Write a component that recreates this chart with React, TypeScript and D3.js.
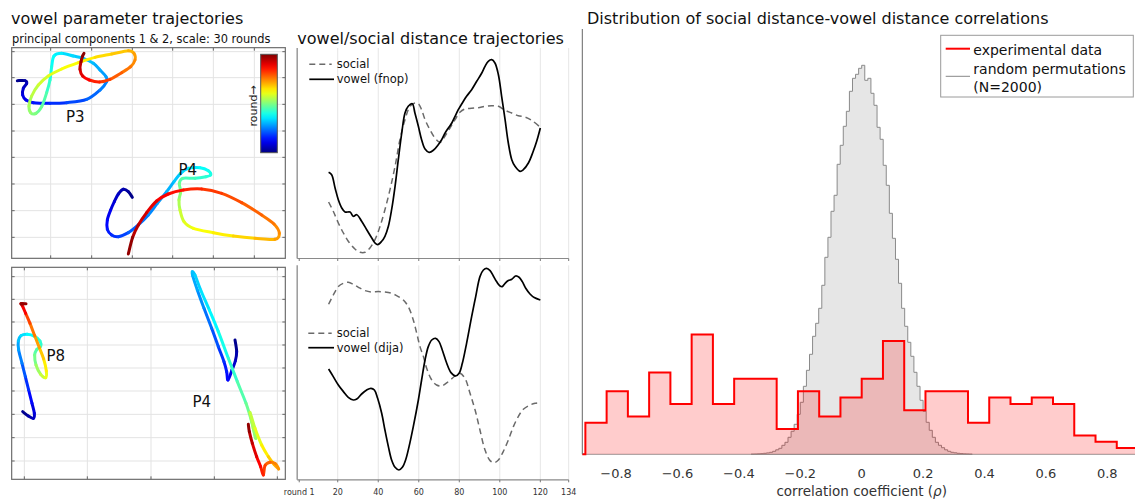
import React from 'react';
import * as d3 from 'd3';

const FONT = "'DejaVu Sans', Verdana, sans-serif";

// ---------------- Right panel data ----------------
const corrBinStart = -0.9;
const corrBinWidth = 1.8 / 26;
const experimentalCounts = [5, 10, 6, 13, 8, 19, 8, 12, 12, 4, 10, 6, 9, 12, 18, 7, 10, 10, 5, 9, 8, 9, 8, 3, 2, 1];
const permBinStart = -0.36;
const permBinWidth = 0.01;
const permDensity = [
  0.1, 0.2, 0.4, 0.6, 1, 1.4, 2, 3, 4.5, 6, 9, 12, 17, 23, 30, 40, 52, 68, 84, 100, 118, 131, 146, 169, 197, 217,
  243, 259, 290, 309, 328, 343, 363, 376, 380, 386,
  389, 374, 376, 361, 349, 327, 315, 289, 269, 241, 216, 195, 171, 146, 128, 112, 98, 82, 68, 54, 43, 32, 24, 17,
  12, 9, 6.6, 4.5, 3, 2, 1.5, 1, 0.7, 0.4, 0.25, 0.1,
];
const corrTicks = [-0.8, -0.6, -0.4, -0.2, 0, 0.2, 0.4, 0.6, 0.8];

// ---------------- Middle panels data: [round, distance] ----------------
const roundTicks = [1, 20, 40, 60, 80, 100, 120, 134];
const roundGrid = [20, 40, 60, 80, 100, 120, 134];
const vowelFnop: [number, number][] = [
  [15.5, 85.7], [17.0, 83.3], [18.7, 70], [20.3, 58.3], [22.0, 50], [23.6, 46], [26.1, 46], [27.7, 41.7], [29.4, 43.3],
  [31.8, 36.7], [34.3, 28.3], [36.8, 20], [38.4, 15], [39.7, 13.3], [41.7, 16.7], [43.3, 21.7], [45.0, 31.7],
  [46.6, 48.3], [48.3, 71.7], [49.9, 98.3], [51.6, 125], [53.2, 145], [54.8, 151.7], [56.8, 154.3], [58.1, 145],
  [59.8, 131.7], [61.4, 118.3], [63.1, 109], [65.1, 105.7], [67.2, 107.7], [69.6, 113.3], [71.3, 118.3], [73.0, 125],
  [74.6, 130], [76.3, 135], [77.9, 141.7], [79.5, 148.3], [82.0, 156.7], [83.6, 161.7], [86.1, 168.3], [88.6, 176.7],
  [91.1, 185], [92.7, 191.7], [94.3, 196.7], [96.0, 198.3], [97.6, 195], [99.3, 183.3], [100.9, 161.7], [102.6, 138.3],
  [104.2, 115], [105.9, 98.3], [107.5, 91.7], [110.0, 86.7], [111.6, 88.3], [114.1, 95], [116.5, 106.7], [118.2, 116.7],
  [120.0, 130],
];
const socialFnop: [number, number][] = [
  [15.5, 56], [17.8, 46.7], [20.3, 35], [22.8, 25], [25.2, 16.7], [28.5, 9], [31.0, 5.7], [33.5, 5.7], [35.9, 10],
  [38.4, 18.3], [40.9, 31.7], [43.3, 48.3], [45.8, 68.3], [48.3, 91.7], [50.7, 118.3], [53.2, 138.3], [55.7, 151.7],
  [58.1, 155], [59.8, 154.3], [61.4, 148.3], [63.1, 138.3], [65.5, 128.3], [68.0, 120], [70.5, 115.7], [72.9, 121.7],
  [75.4, 130], [77.9, 138.3], [80.3, 145.7], [82.8, 149], [86.1, 149.7], [89.4, 150.3], [92.7, 151.7], [96.0, 152.3],
  [99.3, 151.7], [102.6, 147.7], [105.9, 145], [109.1, 142.3], [112.4, 141], [115.7, 137.7], [120.0, 130.7],
];
const vowelDija: [number, number][] = [
  [15.5, 110.3], [17.8, 102.7], [20.3, 94.3], [22.8, 87.7], [25.2, 82], [27.7, 79.3], [29.4, 80.3], [31.8, 85.3],
  [34.3, 89.3], [36.4, 91], [38.1, 89.3], [39.7, 81], [41.7, 66], [43.3, 49.3], [45.0, 32.7], [46.6, 19.3], [48.3, 12],
  [50.2, 9.3], [51.9, 12], [53.5, 19.3], [55.2, 32.7], [57.3, 52.7], [59.8, 79.3], [61.4, 99.3], [63.1, 119.3],
  [64.7, 132.7], [66.4, 139.3], [68.3, 141], [70.0, 137.7], [71.6, 129.3], [73.8, 116], [75.9, 106.7], [78.2, 103.3],
  [79.9, 106], [81.5, 116], [83.6, 136], [86.1, 162.7], [88.1, 182.7], [90.2, 202.7], [91.9, 209.3], [93.5, 211],
  [95.2, 208.7], [96.8, 203.3], [98.4, 197.7], [100.1, 193.3], [101.2, 192.7], [102.6, 196], [104.2, 198.7],
  [105.9, 200], [107.8, 203.3], [109.5, 202], [111.1, 197.7], [112.8, 191], [114.9, 185.3], [117.0, 181.7],
  [120.0, 179.3],
];
const socialDija: [number, number][] = [
  [15.5, 175], [17.8, 184.3], [20.3, 192.7], [22.8, 196], [25.2, 197], [27.7, 195], [30.2, 192], [33.5, 188.7],
  [36.8, 187.3], [40.0, 187.7], [43.3, 187.3], [46.6, 186], [49.9, 182.7], [52.4, 179.3], [54.8, 172.7], [57.3, 159.3],
  [59.0, 146], [60.6, 132.7], [62.3, 122.7], [63.9, 111], [66.4, 99.3], [68.8, 94.3], [71.3, 93.3], [74.6, 97.7],
  [77.9, 103.3], [80.3, 106], [82.8, 101], [85.3, 86], [87.8, 69.3], [90.2, 49.3], [92.7, 29.3], [95.2, 18.7],
  [97.3, 16.7], [99.3, 19.3], [101.7, 27.7], [104.2, 39.3], [106.7, 52.7], [109.1, 62.7], [111.6, 70], [114.9, 74.3],
  [117.4, 76], [120.0, 76.7],
];

// ---------------- Left panels data: [PC1, PC2, round fraction] ----------------
const topGridX = [152, 275, 397, 518, 640, 763];
const topGridY = [155, 233, 313, 393, 472, 552, 632, 712];
const bottomGridX = [73, 262, 453, 643, 832];
const bottomGridY = [65, 133, 201, 270, 339, 408, 478, 548, 618];

const trajP3: [number, number, number][] = [
  [52, 242, 0.0], [75, 242, 0.03], [80, 250, 0.05], [70, 265, 0.07], [68, 285, 0.09], [78, 300, 0.11], [100, 308, 0.13],
  [150, 310, 0.16], [200, 308, 0.18], [260, 298, 0.21], [300, 270, 0.24], [320, 245, 0.26], [318, 230, 0.27],
  [300, 210, 0.29], [280, 190, 0.3], [250, 175, 0.32], [220, 168, 0.33], [185, 160, 0.35], [162, 168, 0.37],
  [155, 200, 0.39], [150, 240, 0.41], [140, 278, 0.44], [125, 320, 0.47], [108, 340, 0.49], [92, 338, 0.51],
  [87, 318, 0.53], [95, 288, 0.55], [115, 255, 0.57], [145, 228, 0.59], [185, 207, 0.61], [235, 188, 0.63],
  [285, 172, 0.65], [335, 162, 0.67], [385, 152, 0.69], [402, 160, 0.71], [405, 180, 0.73], [392, 200, 0.75],
  [365, 218, 0.77], [330, 238, 0.8], [298, 246, 0.83], [268, 240, 0.86], [248, 228, 0.89], [240, 208, 0.92],
  [243, 185, 0.95], [248, 168, 0.98], [252, 160, 1.0],
];
const trajP4top: [number, number, number][] = [
  [397, 592, 0.0], [385, 575, 0.02], [370, 568, 0.04], [355, 582, 0.06], [343, 605, 0.08], [332, 630, 0.1],
  [322, 660, 0.12], [322, 688, 0.14], [335, 705, 0.16], [355, 710, 0.18], [385, 698, 0.2], [415, 675, 0.23],
  [445, 645, 0.25], [472, 610, 0.27], [500, 575, 0.29], [522, 545, 0.31], [542, 520, 0.33], [565, 505, 0.35],
  [600, 503, 0.37], [625, 512, 0.39], [632, 525, 0.4], [618, 530, 0.41], [585, 535, 0.43], [548, 535, 0.45],
  [538, 550, 0.47], [542, 575, 0.5], [537, 600, 0.53], [540, 630, 0.56], [552, 665, 0.59], [580, 685, 0.61],
  [640, 698, 0.63], [700, 708, 0.65], [765, 715, 0.68], [825, 718, 0.71], [838, 700, 0.73], [822, 672, 0.75],
  [785, 645, 0.77], [725, 608, 0.79], [665, 580, 0.81], [605, 567, 0.83], [550, 570, 0.85], [505, 582, 0.87],
  [470, 603, 0.89], [440, 638, 0.91], [415, 675, 0.93], [398, 712, 0.96], [385, 762, 1.0],
];
const trajP8: [number, number, number][] = [
  [68, 470, 0.0], [85, 483, 0.03], [100, 490, 0.06], [103, 475, 0.08], [96, 445, 0.11], [86, 405, 0.15],
  [76, 365, 0.19], [66, 325, 0.23], [56, 285, 0.27], [55, 258, 0.3], [63, 242, 0.33], [82, 238, 0.36],
  [104, 244, 0.39], [120, 258, 0.41], [122, 274, 0.43], [110, 284, 0.45], [104, 300, 0.47], [108, 330, 0.51],
  [122, 358, 0.55], [137, 368, 0.59], [139, 348, 0.62], [131, 312, 0.66], [118, 278, 0.7], [104, 242, 0.74],
  [90, 205, 0.78], [77, 175, 0.84], [66, 150, 0.92], [63, 146, 0.96], [78, 146, 1.0],
];
const trajP4bottom: [number, number, number][] = [
  [705, 255, 0.0], [710, 290, 0.03], [706, 318, 0.06], [696, 345, 0.09], [684, 375, 0.12], [680, 350, 0.14],
  [672, 320, 0.16], [655, 275, 0.19], [635, 220, 0.22], [612, 160, 0.25], [592, 105, 0.28], [578, 62, 0.3],
  [577, 50, 0.31], [585, 60, 0.32], [602, 105, 0.34], [628, 165, 0.36], [655, 230, 0.38], [685, 310, 0.41],
  [712, 380, 0.44], [738, 445, 0.47], [755, 500, 0.49], [767, 550, 0.51], [760, 520, 0.53], [750, 472, 0.55],
  [765, 520, 0.58], [785, 570, 0.62], [805, 605, 0.66], [822, 628, 0.69], [836, 642, 0.72], [826, 626, 0.74],
  [810, 622, 0.76], [795, 632, 0.8], [790, 660, 0.83], [782, 635, 0.86], [770, 605, 0.89], [757, 565, 0.92],
  [748, 530, 0.96], [745, 508, 1.0],
];

// ---------------- helpers ----------------
const clamp01 = (v: number) => Math.max(0, Math.min(1, v));
const jet = (t: number) =>
  d3.rgb(
    255 * clamp01(1.5 - Math.abs(4 * t - 3)),
    255 * clamp01(1.5 - Math.abs(4 * t - 2)),
    255 * clamp01(1.5 - Math.abs(4 * t - 1))
  ).formatHex();

function Trajectory({ pts, sx, sy }: { pts: [number, number, number][]; sx: any; sy: any }) {
  const P = pts.map((p) => [sx(p[0]), sy(p[1]), p[2]]);
  const n = P.length;
  const segs = [];
  for (let i = 0; i < n - 1; i++) {
    const p0 = P[Math.max(i - 1, 0)], p1 = P[i], p2 = P[i + 1], p3 = P[Math.min(i + 2, n - 1)];
    const c1x = p1[0] + (p2[0] - p0[0]) / 6, c1y = p1[1] + (p2[1] - p0[1]) / 6;
    const c2x = p2[0] - (p3[0] - p1[0]) / 6, c2y = p2[1] - (p3[1] - p1[1]) / 6;
    segs.push(
      <path key={i} d={`M${p1[0]},${p1[1]}C${c1x},${c1y} ${c2x},${c2y} ${p2[0]},${p2[1]}`}
        stroke={jet((p1[2] + p2[2]) / 2)} strokeWidth={3} fill="none" strokeLinecap="round" />
    );
  }
  return <g>{segs}</g>;
}

function GridBox({ sx, sy, gx, gy, x0, x1, y0, y1 }: any) {
  const tk = 3;
  return (
    <g>
      {gx.map((g: number) => (
        <line key={'gx' + g} x1={sx(g)} x2={sx(g)} y1={y0} y2={y1} stroke="#e3e3e3" strokeWidth={1} />
      ))}
      {gy.map((g: number) => (
        <line key={'gy' + g} x1={x0} x2={x1} y1={sy(g)} y2={sy(g)} stroke="#e3e3e3" strokeWidth={1} />
      ))}
      {gx.map((g: number) => (
        <g key={'tx' + g}>
          <line x1={sx(g)} x2={sx(g)} y1={y1} y2={y1 - tk} stroke="#666" />
          <line x1={sx(g)} x2={sx(g)} y1={y0} y2={y0 + tk} stroke="#666" />
        </g>
      ))}
      {gy.map((g: number) => (
        <g key={'ty' + g}>
          <line x1={x0} x2={x0 + tk} y1={sy(g)} y2={sy(g)} stroke="#666" />
          <line x1={x1} x2={x1 - tk} y1={sy(g)} y2={sy(g)} stroke="#666" />
        </g>
      ))}
      <rect x={x0} y={y0} width={x1 - x0} height={y1 - y0} fill="none" stroke="#6e6e6e" strokeWidth={1.2} />
    </g>
  );
}

function stairs(start: number, width: number, vals: number[], sx: any, sy: any) {
  let d = `M${sx(start)},${sy(0)}`;
  vals.forEach((v, i) => {
    d += `V${sy(v)}H${sx(start + (i + 1) * width)}`;
  });
  d += `V${sy(0)}`;
  return d;
}

export default function App() {
  // Left panels scales
  const lx0 = 11.67, lx1 = 285.33;
  const sxTop = d3.scaleLinear().domain([35, 856]).range([lx0, lx1]);
  const syTop = d3.scaleLinear().domain([143, 775]).range([47.67, 258.33]);
  const sxBot = d3.scaleLinear().domain([35, 856]).range([lx0, lx1]);
  const syBot = d3.scaleLinear().domain([37, 673]).range([267.33, 479.33]);

  // Middle panels
  const xM = d3.scaleLinear().domain([0, 134]).range([297.2, 568.7]);
  const yMT = d3.scaleLinear().domain([0, 210]).range([258, 48]);
  const yMB = d3.scaleLinear().domain([0, 214]).range([479.3, 265.3]);
  const lineT = d3.line<[number, number]>().x((d) => xM(d[0])).y((d) => yMT(d[1])).curve(d3.curveCatmullRom);
  const lineB = d3.line<[number, number]>().x((d) => xM(d[0])).y((d) => yMB(d[1])).curve(d3.curveCatmullRom);

  // Right panel
  const xR = d3.scaleLinear().domain([-0.91, 0.91]).range([582.3, 1141.1]);
  const yR = d3.scaleLinear().domain([0, 67.5]).range([454.3, 29]);
  const yG = d3.scaleLinear().domain([0, 425.3]).range([454.3, 29]);

  const grayPath = stairs(permBinStart, permBinWidth, permDensity, xR, yG);
  const redFill = stairs(corrBinStart, corrBinWidth, experimentalCounts, xR, yR);
  const redLine = `M${xR(-0.91)},${yR(0)}H${xR(corrBinStart)}` + redFill.slice(redFill.indexOf('V'));

  const jetStops = d3.range(0, 1.0001, 0.05);

  return (
    <svg width={1135} height={500} style={{ position: 'absolute', left: 0, top: 0, background: '#fff' }}
      fontFamily={FONT}>
      <defs>
        <linearGradient id="jetGrad" x1="0" y1="1" x2="0" y2="0">
          {jetStops.map((t) => (
            <stop key={t} offset={t} stopColor={jet(t)} />
          ))}
        </linearGradient>
        <clipPath id="rightClip">
          <rect x={575} y={0} width={560} height={500} />
        </clipPath>
      </defs>
      <rect x={0} y={0} width={1135} height={500} fill="#fff" />

      {/* ---------- Left panels ---------- */}
      <text x={11} y={24} fontSize={16} fill="#111">vowel parameter trajectories</text>
      <text x={12} y={42.5} fontSize={11.4} fill="#111">principal components 1 &amp; 2, scale: 30 rounds</text>

      <GridBox sx={sxTop} sy={syTop} gx={topGridX} gy={topGridY} x0={lx0} x1={lx1} y0={47.67} y1={258.33} />
      <Trajectory pts={trajP3} sx={sxTop} sy={syTop} />
      <Trajectory pts={trajP4top} sx={sxTop} sy={syTop} />
      <text x={66} y={121.5} fontSize={15} fill="#111">P3</text>
      <text x={178.5} y={175} fontSize={15} fill="#111">P4</text>

      <rect x={260.7} y={54.3} width={16.6} height={98.4} fill="url(#jetGrad)" stroke="#555" strokeWidth={1} />
      <text transform="translate(256.5,106) rotate(-90)" textAnchor="middle" fontSize={11} fill="#222">round→</text>

      <GridBox sx={sxBot} sy={syBot} gx={bottomGridX} gy={bottomGridY} x0={lx0} x1={lx1} y0={267.33} y1={479.33} />
      <Trajectory pts={trajP8} sx={sxBot} sy={syBot} />
      <Trajectory pts={trajP4bottom} sx={sxBot} sy={syBot} />
      <text x={46.5} y={360.5} fontSize={15} fill="#111">P8</text>
      <text x={192.5} y={407} fontSize={15} fill="#111">P4</text>

      {/* ---------- Middle panels ---------- */}
      <text x={297.3} y={44} fontSize={16} fill="#111">vowel/social distance trajectories</text>
      {roundGrid.map((r) => (
        <g key={'mg' + r}>
          <line x1={xM(r)} x2={xM(r)} y1={48} y2={258} stroke="#e6e6e6" />
          <line x1={xM(r)} x2={xM(r)} y1={265.3} y2={479.3} stroke="#e6e6e6" />
        </g>
      ))}
      <line x1={xM(0)} x2={xM(0)} y1={48} y2={258.5} stroke="#9a9a9a" strokeWidth={1.5} />
      <line x1={xM(0)} x2={xM(134)} y1={258.5} y2={258.5} stroke="#8a8a8a" strokeWidth={1.2} />
      <line x1={xM(0)} x2={xM(0)} y1={265.3} y2={479.8} stroke="#9a9a9a" strokeWidth={1.5} />
      <line x1={xM(0)} x2={xM(134)} y1={479.8} y2={479.8} stroke="#8a8a8a" strokeWidth={1.2} />
      {roundTicks.map((r) => (
        <g key={'mt' + r}>
          <line x1={xM(r)} x2={xM(r)} y1={479.8} y2={482.3} stroke="#777" />
          <line x1={xM(r)} x2={xM(r)} y1={258.5} y2={261} stroke="#777" />
          <text x={xM(r)} y={494.5} fontSize={8} textAnchor="middle" fill="#333">
            {r === 1 ? 'round 1' : String(r)}
          </text>
        </g>
      ))}

      <path d={lineT(socialFnop) || ''} fill="none" stroke="#6a6a6a" strokeWidth={1.5} strokeDasharray="6,4" />
      <path d={lineT(vowelFnop) || ''} fill="none" stroke="#000" strokeWidth={1.7} />
      <line x1={309.3} x2={331.7} y1={64.3} y2={64.3} stroke="#6a6a6a" strokeWidth={1.5} strokeDasharray="6,4" />
      <text x={336.7} y={68.4} fontSize={11.5} fill="#111">social</text>
      <line x1={309.3} x2={334} y1={79.3} y2={79.3} stroke="#000" strokeWidth={1.7} />
      <text x={336.7} y={83.4} fontSize={11.5} fill="#111">vowel (fnop)</text>

      <path d={lineB(socialDija) || ''} fill="none" stroke="#6a6a6a" strokeWidth={1.5} strokeDasharray="6,4" />
      <path d={lineB(vowelDija) || ''} fill="none" stroke="#000" strokeWidth={1.7} />
      <line x1={308.3} x2={331.7} y1={333.3} y2={333.3} stroke="#6a6a6a" strokeWidth={1.5} strokeDasharray="6,4" />
      <text x={336.7} y={337.4} fontSize={11.5} fill="#111">social</text>
      <line x1={308.3} x2={334} y1={347.7} y2={347.7} stroke="#000" strokeWidth={1.7} />
      <text x={336.7} y={351.8} fontSize={11.5} fill="#111">vowel (dija)</text>

      {/* ---------- Right panel ---------- */}
      <text x={587} y={24} fontSize={16} fill="#111">Distribution of social distance-vowel distance correlations</text>
      <g clipPath="url(#rightClip)">
        <line x1={xR(-0.91)} x2={xR(0.91)} y1={yR(0)} y2={yR(0)} stroke="#9a9a9a" strokeWidth={1} />
        <path d={grayPath + 'Z'} fill="#e6e6e6" stroke="#8a8a8a" strokeWidth={1} />
        <path d={redFill + 'Z'} fill="rgba(255,0,0,0.2)" stroke="none" />
        <path d={redLine} fill="none" stroke="#ff0000" strokeWidth={2} />
      </g>
      <line x1={582.3} x2={582.3} y1={29} y2={454.3} stroke="#666" strokeWidth={1} />
      {corrTicks.map((t) => (
        <text key={'ct' + t} x={xR(t)} y={478} fontSize={13} textAnchor="middle" fill="#333">
          {t === 0 ? '0' : d3.format('.1f')(t)}
        </text>
      ))}
      <text x={xR(0)} y={495.5} fontSize={13.5} textAnchor="middle" fill="#333">
        correlation coefficient (<tspan fontStyle="italic">ρ</tspan>)
      </text>

      <rect x={940.7} y={35.3} width={192.6} height={61.7} fill="#fff" stroke="#9a9a9a" strokeWidth={1} />
      <line x1={945.7} x2={970} y1={48.7} y2={48.7} stroke="#ff0000" strokeWidth={2} />
      <text x={973.3} y={54.5} fontSize={14} fill="#111">experimental data</text>
      <line x1={945.7} x2={970} y1={76.3} y2={76.3} stroke="#888" strokeWidth={1} />
      <text x={973.3} y={74} fontSize={14} fill="#111">random permutations</text>
      <text x={973.3} y={92} fontSize={14} fill="#111">(N=2000)</text>
    </svg>
  );
}
